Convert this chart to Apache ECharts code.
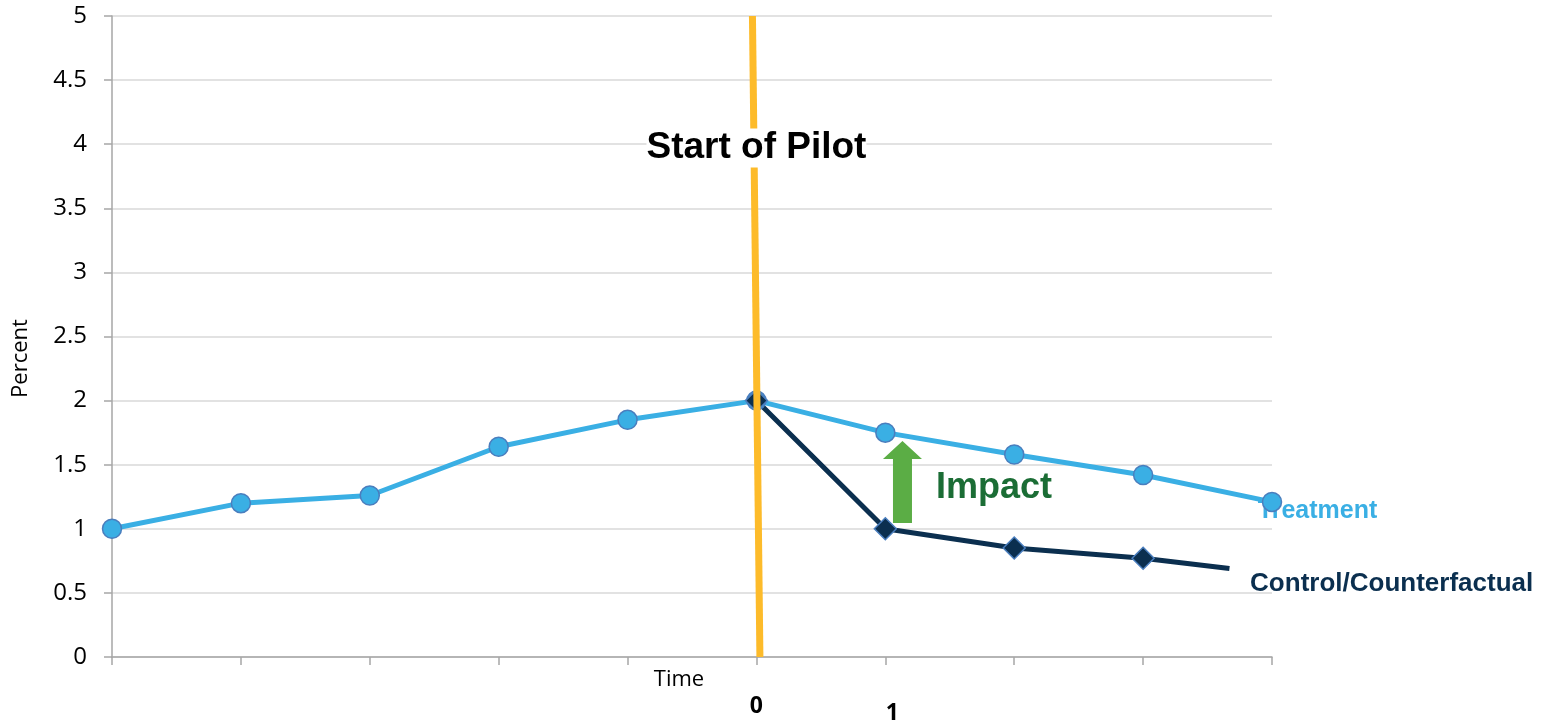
<!DOCTYPE html>
<html>
<head>
<meta charset="utf-8">
<title>Start of Pilot</title>
<script src="https://cdn.jsdelivr.net/npm/echarts@6/dist/echarts.min.js"></script>
<style>
    html, body { margin: 0; padding: 0; background: #fff; }
    #main { width: 1544px; height: 721px; }
</style>
</head>
<body>
<div id="main"></div>
<script>
/** x positions (period index) */
var periods = [0, 1, 2, 3, 4, 5, 6, 7, 8, 9];
/** labels under the time axis (only the pilot start is numbered) */
var timeLabels = ['', '', '', '', '', '0', '1', '', '', ''];

/** treatment group, percent */
var treatmentValues = [1.0, 1.2, 1.26, 1.64, 1.85, 2.0, 1.75, 1.58, 1.42, 1.21];

/** control / counterfactual, starts at the pilot, last point is the cut-off end of the line */
var controlX = [5, 6, 7, 8, 8.67];
var controlValues = [2.0, 1.0, 0.85, 0.77, 0.69];

/** the slanted "start of pilot" line: [x, percent] at top and bottom */
var pilotLineX = [4.969, 5.027];
var pilotLineY = [5, 0];

/** impact arrow: x, from, to */
var impactArrow = [6.133, 1.045, 1.685];

// colours
var treatmentColor = '#3AAFE4';
var controlColor = '#0B2F4F';
var markerBorder = '#4A7EBE';
var pilotColor = '#FDBB2A';
var arrowColor = '#5BAD45';
var impactColor = '#1B6D35';

var axisFont = '"Open Sans", sans-serif';
var boldFont = '"Liberation Sans", Arial, sans-serif';

var myChart = echarts.init(document.getElementById('main'));

/**
 * zip two arrays into [x, y] pairs
 */
function pairs(xs, ys) {
    var d = [];
    for (var i = 0; i < xs.length; i++) {
        d.push([xs[i], ys[i]]);
    }
    return d;
}

var controlData = pairs(controlX, controlValues);
// the last control point only ends the line, no marker
controlData[controlData.length - 1] = {
    value: controlData[controlData.length - 1],
    symbol: 'none'
};

var option = {
    animation: false,
    grid: {
        left: 112, right: 272, top: 16, bottom: 64,
        containLabel: false,
        outerBoundsMode: 'none'
    },
    xAxis: {
        type: 'value',
        min: 0,
        max: 9,
        interval: 1,
        name: 'Time',
        nameLocation: 'middle',
        nameGap: 12,
        nameMoveOverlap: false,
        nameTextStyle: {
            fontFamily: axisFont, fontSize: 22, color: '#000',
            padding: [0, 26, 0, 0], verticalAlign: 'top'
        },
        axisLine: { lineStyle: { color: '#A6A6A6', width: 1.5 } },
        axisTick: { show: true, length: 8, lineStyle: { color: '#A6A6A6', width: 1.5 } },
        splitLine: { show: false },
        axisLabel: {
            margin: 38,
            fontFamily: axisFont,
            fontSize: 23,
            fontWeight: 'bold',
            color: '#000',
            formatter: function (v) {
                var t = timeLabels[Math.round(v)] || '';
                if (t == '1') {
                    return '{b|' + t + '}';
                }
                return t;
            },
            rich: {
                b: {
                    fontFamily: axisFont, fontSize: 23, fontWeight: 'bold', color: '#000',
                    padding: [7, 0, 0, 14]
                }
            }
        }
    },
    yAxis: {
        type: 'value',
        min: 0,
        max: 5,
        interval: 0.5,
        name: 'Percent',
        nameLocation: 'middle',
        nameGap: 80,
        nameMoveOverlap: false,
        nameTextStyle: {
            fontFamily: axisFont, fontSize: 22, color: '#000',
            padding: [0, 44, 0, 0]
        },
        axisLine: { show: true, lineStyle: { color: '#A6A6A6', width: 1.5 } },
        axisTick: { show: true, length: 8, lineStyle: { color: '#A6A6A6', width: 1.5 } },
        splitLine: { lineStyle: { color: '#D9D9D9', width: 1.5 } },
        axisLabel: {
            margin: 25,
            fontFamily: axisFont,
            fontSize: 24,
            color: '#000'
        }
    },
    series: [
        {
            name: 'Treatment',
            type: 'line',
            data: pairs(periods, treatmentValues),
            symbol: 'circle',
            symbolSize: 19,
            z: 2,
            lineStyle: { color: treatmentColor, width: 5 },
            itemStyle: { color: treatmentColor, borderColor: markerBorder, borderWidth: 1.5 }
        },
        {
            name: 'Control/Counterfactual',
            type: 'line',
            data: controlData,
            symbol: 'diamond',
            symbolSize: 22,
            z: 2,
            lineStyle: { color: controlColor, width: 5 },
            itemStyle: { color: controlColor, borderColor: markerBorder, borderWidth: 1.5 }
        },
        {
            name: 'pilot',
            type: 'line',
            data: pairs(pilotLineX, pilotLineY),
            symbol: 'none',
            z: 3,
            lineStyle: { color: pilotColor, width: 7 }
        },
        {
            name: 'impact',
            type: 'custom',
            data: [impactArrow],
            encode: { x: 0, y: [1, 2] },
            z: 3,
            renderItem: function (params, api) {
                var top = api.coord([api.value(0), api.value(2)]);
                var bottom = api.coord([api.value(0), api.value(1)]);
                var half = 9.5, headHalf = 19.5, headLen = 18;
                return {
                    type: 'polygon',
                    shape: {
                        points: [
                            [top[0], top[1]],
                            [top[0] + headHalf, top[1] + headLen],
                            [top[0] + half, top[1] + headLen],
                            [bottom[0] + half, bottom[1]],
                            [bottom[0] - half, bottom[1]],
                            [top[0] - half, top[1] + headLen],
                            [top[0] - headHalf, top[1] + headLen]
                        ]
                    },
                    style: { fill: arrowColor }
                };
            }
        }
    ]
};

myChart.setOption(option);

/**
 * text annotations, anchored in data coordinates
 */
function px(p) {
    return myChart.convertToPixel({ gridIndex: 0 }, p);
}

var startPos = px([5, 3.97]);
var impactPos = px([6.393, 1.318]);
var treatPos = px([8.89, 1.14]);
var controlPos = px([8.83, 0.569]);

myChart.setOption({
    graphic: [
        {
            type: 'text',
            x: startPos[0],
            y: startPos[1],
            z: 10,
            style: {
                text: 'Start of Pilot',
                font: 'bold 37px ' + boldFont,
                fill: '#000',
                align: 'center',
                verticalAlign: 'middle',
                backgroundColor: '#fff',
                padding: [1, 0, 1, 0]
            }
        },
        {
            type: 'text',
            x: impactPos[0],
            y: impactPos[1],
            z: 10,
            style: {
                text: 'Impact',
                font: 'bold 36px ' + boldFont,
                fill: impactColor,
                align: 'left',
                verticalAlign: 'middle'
            }
        },
        {
            type: 'text',
            x: treatPos[0],
            y: treatPos[1],
            z: 1,
            style: {
                text: 'Treatment',
                font: 'bold 25px ' + boldFont,
                fill: treatmentColor,
                align: 'left',
                verticalAlign: 'middle'
            }
        },
        {
            type: 'text',
            x: controlPos[0],
            y: controlPos[1],
            z: 10,
            style: {
                text: 'Control/Counterfactual',
                font: 'bold 26px ' + boldFont,
                fill: controlColor,
                align: 'left',
                verticalAlign: 'middle'
            }
        }
    ]
});
</script>
</body>
</html>
